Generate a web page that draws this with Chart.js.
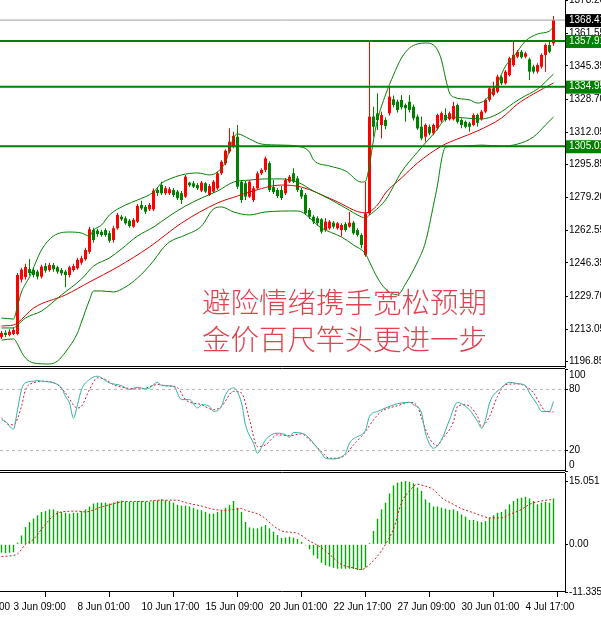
<!DOCTYPE html>
<html><head><meta charset="utf-8">
<script src="https://cdn.jsdelivr.net/npm/chart.js@4.4.1/dist/chart.umd.min.js"></script>
<style>
html,body{margin:0;padding:0;background:#fff;overflow:hidden;}
#wrap{position:relative;width:601px;height:617px;}
canvas{position:absolute;left:0;top:0;}
#note{position:absolute;left:202px;top:283px;font-family:'Noto Sans CJK SC',sans-serif;font-size:28.5px;line-height:36.5px;color:#e2424e;white-space:nowrap;font-weight:300;z-index:5;}
</style></head><body>
<div id="wrap">
<canvas id="cMain" width="601" height="617"></canvas>
<canvas id="cStoch" width="601" height="617"></canvas>
<canvas id="cMacd" width="601" height="617"></canvas>
<div id="note">避险情绪携手宽松预期<br>金价百尺竿头更进一步</div>
</div>
<script>
// ---------- DATA (H4 bars, index 0..138) ----------
const candleOpen = [1209.2,1211.3,1210.2,1210.7,1210.7,1238.0,1239.3,1243.3,1242.8,1242.0,
1239.5,1244.8,1242.8,1245.3,1244.2,1242.8,1242.0,1240.3,1242.8,1243.7,
1246.5,1248.2,1252.0,1262.9,1262.6,1262.0,1262.9,1261.3,1257.9,1263.8,
1269.6,1268.8,1267.6,1264.6,1267.1,1275.5,1274.6,1273.3,1273.3,1283.0,
1285.5,1281.4,1281.4,1283.0,1282.2,1281.4,1279.7,1286.7,1286.4,1285.5,
1282.7,1286.4,1280.5,1282.2,1283.9,1291.4,1296.4,1302.3,1304.8,1309.8,
1287.2,1286.4,1279.7,1278.0,1283.9,1291.4,1293.1,1296.5,1284.5,1283.0,
1283.0,1281.4,1287.2,1291.4,1288.9,1283.0,1280.5,1273.0,1269.6,1268.8,
1268.3,1262.9,1263.8,1266.6,1263.8,1262.9,1265.9,1264.6,1266.6,1262.9,
1260.4,1250.4,1271.3,1319.9,1321.5,1315.7,1318.2,1321.6,1328.6,1327.4,
1328.3,1325.7,1327.4,1324.9,1319.9,1314.8,1309.8,1314.8,1311.5,1314.0,
1317.9,1320.7,1318.6,1318.6,1325.7,1318.2,1317.3,1316.5,1315.7,1320.7,
1318.6,1322.4,1328.3,1330.8,1332.4,1339.7,1336.6,1340.8,1345.8,1350.0,
1352.5,1350.0,1348.7,1345.0,1342.5,1345.0,1350.9,1355.9,1356.7];
const candleHigh = [1212.2,1212.5,1213.0,1214.0,1241.3,1244.0,1246.0,1248.4,1244.0,1243.0,
1245.5,1246.3,1246.5,1246.3,1245.0,1243.8,1243.0,1245.0,1246.0,1249.0,
1250.0,1254.0,1264.5,1264.0,1263.5,1263.0,1263.8,1262.5,1265.0,1271.5,
1270.5,1269.8,1268.5,1269.0,1276.0,1277.6,1275.5,1276.5,1283.8,1284.5,
1287.2,1285.0,1284.5,1284.0,1283.0,1282.5,1290.6,1287.2,1287.5,1286.5,
1287.5,1287.0,1286.0,1288.0,1292.5,1298.0,1303.5,1314.0,1312.3,1315.7,
1288.0,1287.5,1288.0,1285.0,1292.5,1294.0,1299.8,1297.5,1288.0,1284.0,
1285.0,1289.0,1290.5,1294.0,1290.0,1284.0,1281.5,1274.0,1270.5,1269.8,
1269.0,1268.8,1268.0,1267.5,1267.0,1266.3,1267.0,1272.1,1267.5,1263.8,
1261.3,1287.2,1358.0,1324.9,1331.6,1322.4,1319.5,1334.9,1330.5,1328.5,
1330.8,1326.5,1330.8,1326.0,1321.0,1319.9,1316.5,1316.0,1316.5,1321.5,
1322.5,1324.1,1322.5,1327.4,1326.5,1319.0,1318.0,1317.3,1321.6,1321.5,
1323.2,1329.0,1335.0,1337.4,1341.0,1340.5,1343.3,1350.0,1357.5,1353.4,
1353.4,1352.5,1349.5,1346.0,1346.7,1351.7,1356.7,1357.5,1370.5];
const candleLow = [1208.2,1209.2,1209.5,1210.0,1210.0,1236.5,1238.0,1240.0,1239.0,1238.0,
1238.5,1241.5,1242.0,1242.0,1241.0,1240.0,1234.1,1239.0,1242.0,1243.0,
1245.5,1247.5,1251.0,1256.5,1259.5,1259.5,1259.5,1256.5,1256.5,1263.0,
1267.5,1265.5,1264.0,1264.0,1266.5,1273.0,1271.0,1272.5,1272.5,1280.0,
1280.5,1280.5,1280.5,1279.5,1278.0,1276.0,1279.0,1284.5,1284.0,1283.0,
1282.0,1281.5,1280.0,1281.5,1283.0,1290.5,1295.5,1301.5,1304.0,1283.5,
1276.5,1278.0,1279.0,1277.0,1283.0,1290.5,1292.0,1282.0,1281.0,1279.0,
1278.0,1280.5,1286.5,1286.5,1282.0,1278.5,1270.5,1268.5,1266.0,1265.0,
1261.0,1262.0,1263.0,1263.5,1263.0,1259.6,1262.0,1264.0,1260.5,1259.5,
1253.7,1249.5,1270.5,1309.8,1313.2,1309.0,1313.5,1320.5,1324.5,1322.0,
1323.5,1317.3,1322.0,1318.0,1313.2,1308.0,1307.3,1310.5,1310.5,1313.0,
1317.0,1317.3,1318.0,1318.0,1316.5,1314.0,1314.0,1312.3,1315.0,1314.8,
1318.0,1321.6,1327.4,1330.0,1331.6,1335.8,1336.0,1340.0,1345.0,1349.2,
1349.0,1349.2,1338.3,1341.5,1341.6,1344.0,1342.5,1351.7,1355.5];
const candleClose = [1211.2,1210.2,1211.8,1212.7,1240.3,1243.0,1244.3,1241.3,1240.3,1239.5,
1244.5,1242.5,1245.3,1243.2,1242.0,1241.2,1240.3,1244.2,1244.8,1247.9,
1248.7,1252.9,1263.3,1257.9,1260.9,1260.4,1260.4,1257.5,1263.8,1270.5,
1268.3,1266.3,1264.9,1268.0,1275.0,1273.8,1272.1,1275.5,1282.7,1281.5,
1281.4,1283.9,1283.4,1280.5,1278.9,1278.0,1289.7,1285.4,1284.7,1283.9,
1286.7,1282.2,1285.0,1287.2,1291.4,1297.2,1302.8,1307.3,1310.2,1284.7,
1278.0,1279.7,1287.2,1283.9,1291.4,1293.1,1298.9,1283.0,1282.0,1280.0,
1279.0,1288.0,1289.7,1287.2,1283.0,1279.7,1271.3,1269.6,1267.1,1266.3,
1262.1,1267.1,1267.1,1264.6,1266.3,1265.4,1262.9,1266.6,1261.3,1260.4,
1255.4,1271.3,1319.9,1314.8,1318.2,1320.7,1315.2,1329.9,1325.7,1323.2,
1324.6,1324.1,1323.2,1319.1,1314.0,1309.0,1315.7,1311.5,1315.7,1320.7,
1321.6,1318.2,1321.6,1325.2,1317.3,1315.7,1314.8,1314.8,1320.7,1316.8,
1322.4,1328.3,1334.1,1334.1,1340.0,1336.6,1342.5,1349.2,1350.9,1352.5,
1349.7,1351.7,1342.5,1342.5,1345.8,1350.9,1355.9,1352.5,1368.41];

// Bollinger bands and red MA, as [bar index, price] vertices
const bbUpper = [[0,1218.7],[3,1218.2],[4,1224.7],[5,1231.8],[7,1239.3],[10,1252.9],[13,1259.9],[17,1261.9],[20,1261.4],[22,1259.9],[23,1262.9],[25,1265.4],[27,1270.5],[31,1275.5],[34,1278.0],[38,1282.0],[40,1286.5],[42,1288.5],[45,1290.6],[49,1291.6],[52,1290.6],[54,1292.1],[56,1297.1],[57,1303.1],[58,1309.2],[59,1311.2],[62,1308.7],[65,1306.1],[70,1305.6],[75,1304.6],[77,1302.1],[78,1298.1],[82,1295.1],[86,1292.6],[90,1287.0],[91,1287.5],[92,1295.6],[93,1308.2],[94,1318.2],[96,1330.8],[98,1340.8],[100,1349.4],[102,1354.4],[104,1356.4],[106,1356.9],[108,1355.9],[109,1353.4],[110,1348.3],[111,1339.3],[112,1331.8],[113,1329.8],[117,1328.3],[119,1326.7],[121,1328.3],[123,1333.3],[124,1336.8],[126,1345.3],[128,1349.9],[131,1357.9],[134,1361.4],[137,1362.9],[138,1364.9]];
const bbMiddle = [[0,1213.7],[3,1213.7],[4,1215.2],[6,1218.7],[10,1222.2],[15,1230.3],[20,1238.3],[23,1244.8],[27,1248.9],[30,1253.4],[34,1259.9],[38,1264.4],[42,1270.0],[46,1275.0],[50,1279.0],[54,1282.5],[58,1287.0],[62,1288.0],[66,1288.6],[70,1288.6],[74,1287.0],[78,1282.5],[82,1278.5],[86,1274.0],[90,1269.5],[91,1269.0],[92,1270.5],[93,1272.0],[96,1278.0],[100,1292.1],[104,1302.1],[108,1311.2],[112,1319.7],[116,1319.2],[120,1318.7],[124,1321.2],[128,1326.7],[130,1329.3],[134,1333.8],[138,1341.3]];
const bbLower = [[0,1207.6],[3,1208.2],[4,1205.6],[5,1201.6],[6,1198.6],[8,1196.1],[12,1195.6],[14,1197.1],[16,1201.6],[19,1211.2],[20,1216.7],[22,1227.8],[23,1232.3],[25,1232.3],[28,1231.8],[31,1234.3],[34,1238.8],[36,1242.8],[38,1247.4],[40,1252.9],[42,1256.9],[46,1260.4],[50,1264.9],[53,1273.5],[55,1274.5],[58,1272.0],[62,1270.5],[66,1272.0],[74,1272.5],[80,1263.9],[85,1259.4],[88,1255.4],[91,1250.9],[92,1246.9],[94,1238.8],[96,1233.3],[99,1230.3],[101,1235.8],[104,1246.9],[106,1256.9],[108,1275.5],[109,1285.5],[110,1298.1],[111,1304.6],[115,1305.1],[120,1305.6],[125,1305.1],[129,1306.1],[133,1309.7],[136,1315.7],[138,1319.7]];
const maRed = [[0,1214.7],[3,1215.2],[4,1216.2],[8,1223.7],[16,1230.3],[22,1236.8],[29,1244.3],[37,1254.4],[45,1266.4],[54,1276.5],[59,1280.0],[62,1282.0],[70,1285.5],[75,1284.5],[83,1278.0],[91,1271.5],[94,1275.5],[96,1281.5],[100,1289.1],[104,1296.6],[110,1305.1],[114,1308.7],[119,1312.7],[125,1319.2],[129,1326.2],[133,1331.3],[138,1336.8]];

// Horizontal price objects and axis ticks
const levelLines = [1357.91, 1334.95, 1305.01];
const bidPrice = 1368.41;
const priceTicks = [1378.20, 1361.55, 1345.35, 1328.70, 1312.05, 1295.85, 1279.20, 1262.55, 1246.35, 1229.70, 1213.05, 1196.85];

// Stochastic %K / %D as [bar index, value]
const stochK = [[0,50.2],[1,48.6],[3,41],[4,60],[5,79.8],[6,86.4],[8,88],[9,88.7],[10,88],[13,86.4],[15,81.5],[16,73.2],[17,66.7],[18,51.9],[19,65],[20,79.8],[22,89.7],[24,92.9],[25,91.3],[27,86.4],[30,83.7],[32,79.8],[34,82.1],[36,80.5],[37,81.5],[39,87],[40,83.7],[43,83.1],[45,70],[47,70],[49,61.8],[50,65],[52,63.4],[53,58.4],[55,63.4],[56,74.9],[58,81.5],[60,66.7],[61,45.3],[63,27.3],[64,17.4],[65,23.3],[66,30.5],[69,37.1],[71,35.5],[72,33.2],[73,37.7],[75,37.1],[76,35.5],[78,27.3],[80,17.4],[81,12.5],[83,11.8],[85,14.1],[86,17.4],[87,27.3],[89,33.8],[90,35.5],[91,40],[92,53.5],[94,58.4],[96,61.8],[99,66],[102,67.3],[103,65],[105,56.8],[106,37.1],[108,22.4],[110,30.5],[112,50.2],[114,67.3],[115,66],[117,60],[119,48.6],[120,42],[121,50.2],[122,66.7],[125,81.5],[127,87],[129,85.7],[131,83.7],[132,76.5],[134,65],[135,58.4],[137,58.4],[138,68.3]];
const stochD = [[0,51.9],[2,45.3],[3,45.3],[5,63.4],[6,79.8],[8,86.4],[10,88],[14,84.7],[16,76.5],[19,61.8],[20,63.4],[22,79.8],[24,91.3],[26,89.7],[28,84.7],[31,81.5],[35,80.5],[39,84.7],[41,83.7],[44,81.5],[46,70],[50,65],[53,60],[55,63.4],[58,78.1],[60,76.5],[62,50.2],[64,23.9],[66,25.6],[69,35.5],[72,34.5],[75,36.5],[77,30.5],[80,19],[82,12.5],[84,12.5],[86,15.8],[88,25.6],[90,33.8],[91,38.7],[93,50.2],[95,58.4],[99,64],[102,67.3],[104,63.4],[105,52],[107,32],[109,25],[110,30.5],[113,48.6],[114,63.4],[116,65],[119,53.5],[120,43.6],[122,53.5],[124,73.2],[126,84.7],[129,85.4],[131,83.1],[133,76.5],[135,63.4],[136,58.4],[138,58]];
const stochTicks = [100, 80, 20, 0];
const stochLevels = [80, 20];

// MACD main (histogram, one value per bar) and signal [bar index, value]
const macdHist = [-2.0,-2.1,-2.0,-1.9,0.4,2.1,4.1,5.3,6.1,6.9,
7.7,7.9,8.3,8.3,7.9,7.7,7.5,7.3,7.5,7.5,
7.9,8.3,9.0,9.7,9.9,9.9,9.9,9.7,9.9,10.3,
10.4,10.2,10.1,10.1,10.3,10.3,10.1,10.1,10.4,10.5,
10.7,10.5,10.3,9.9,9.4,9.2,9.2,9.0,8.7,8.3,
8.1,7.7,7.3,7.3,7.7,8.1,8.7,9.4,10.3,8.7,
7.7,5.3,4.0,3.8,3.8,4.2,4.6,3.8,3.0,2.2,
1.5,1.6,1.8,1.6,1.3,0.6,-0.2,-1.2,-2.6,-3.4,
-4.4,-5.0,-5.3,-5.6,-5.8,-5.8,-5.8,-5.8,-5.9,-6.1,
-6.1,-5.5,0.3,3.2,6.1,8.3,9.9,12.1,14.0,14.7,
14.9,15.051,14.9,14.5,13.5,12.7,10.7,9.9,9.0,9.0,
8.7,8.5,8.2,8.3,7.9,7.1,6.6,5.8,5.8,5.5,
5.3,5.5,6.3,6.9,7.5,7.7,8.3,9.5,10.3,10.9,
11.1,11.3,10.9,10.3,9.5,9.9,10.1,9.9,10.9];
const macdSignal = [[0,-2.9],[4,-2.3],[5,-1.2],[6,0],[8,1.2],[10,3.6],[13,6.8],[15,7.7],[19,7.9],[21,7.7],[25,8.9],[29,9.9],[31,10.2],[36,10.2],[39,10.5],[41,10.5],[44,10.5],[46,9.9],[50,9.1],[53,8.3],[56,8.1],[60,8.5],[61,8.1],[65,6.8],[68,4.4],[70,3.2],[74,2.6],[77,0.8],[80,-0.8],[82,-2.4],[85,-4.8],[88,-5.6],[90,-6.0],[91,-5.6],[94,-2.8],[96,0],[98,3.6],[100,9.9],[102,12.7],[104,14.3],[105,14.1],[108,13.0],[110,11.1],[113,9.5],[115,8.5],[118,7.5],[120,6.8],[122,6.3],[125,6.3],[127,7.1],[130,8.3],[132,9.5],[135,10.3],[138,10.7]];
const macdTickVals = [15.051, 0, -11.335];
const macdTickLabels = ['15.051', '0.00', '-11.335'];

// Time axis labels (bar index where each label starts)
const xTickIdx = [-13, 3, 19, 35, 51, 67, 83, 99, 115, 131];
const xTickLabels = ['31 May 17:00', '3 Jun 09:00', '8 Jun 01:00', '10 Jun 17:00', '15 Jun 09:00', '20 Jun 01:00', '22 Jun 17:00', '27 Jun 09:00', '30 Jun 01:00', '4 Jul 17:00'];

// ---------- LAYOUT / STYLE ----------
const X_MIN = -0.375, X_MAX = 140.875;
const AXIS_W = 36;
const FONT = {family: "'Liberation Sans', Arial, sans-serif", size: 10};
const UP = '#ff0000', DOWN = '#008000', GREEN = '#008000', HIST = '#00a800';
const MAIN = {top: 0, bottom: 367, min: 1194.08, max: 1378.5};
const STO = {top: 369, bottom: 471, min: 0, max: 100};
const MAC = {top: 473, bottom: 592, min: -11.335, max: 16.958};
const H = 617;

const framePlugin = {
  id: 'frame',
  afterDraw(chart, args, opts) {
    const {ctx, chartArea: a} = chart;
    ctx.save();
    ctx.strokeStyle = '#000'; ctx.lineWidth = 1;
    ctx.beginPath();
    (opts.sides || []).forEach(s => {
      const y = (s === 'top' ? a.top : a.bottom) - 0.5;
      ctx.moveTo(0, y); ctx.lineTo(a.right, y);
    });
    ctx.stroke(); ctx.restore();
  }
};

function xAxis(show) {
  const s = {type: 'linear', min: X_MIN, max: X_MAX, offset: false, display: show, bounds: 'data',
    grid: {display: false}, border: {display: false}};
  if (show) {
    Object.assign(s, {
      grid: {display: true, drawOnChartArea: false, drawTicks: true, tickLength: 5, color: '#000'},
      ticks: {autoSkip: false, maxRotation: 0, minRotation: 0, align: 'start', padding: 4, color: '#000', font: FONT,
        callback: (v, i) => xTickLabels[i]},
      afterBuildTicks: sc => { sc.ticks = xTickIdx.map(v => ({value: v})); },
      afterFit: sc => { sc.height = H - MAC.bottom; sc.paddingLeft = 0; sc.paddingRight = 0; }
    });
  }
  return s;
}

function yAxis(range, ticks, fmt, tickExtra) {
  return {
    position: 'right', min: range.min, max: range.max, bounds: 'data',
    grid: {drawOnChartArea: false, drawTicks: true, tickLength: 3, color: '#000'},
    border: {display: true, color: '#000'},
    ticks: Object.assign({autoSkip: false, padding: 1, color: '#000', font: FONT, callback: fmt}, tickExtra || {}),
    afterBuildTicks: sc => { sc.ticks = ticks.map(v => ({value: v})); },
    afterFit: sc => { sc.width = AXIS_W; sc.paddingTop = 0; sc.paddingBottom = 0; }
  };
}

const toPts = pairs => pairs.map(([x, y]) => ({x, y}));
function lineDs(pairs, color, extra) {
  return Object.assign({type: 'line', data: toPts(pairs), borderColor: color, borderWidth: 1,
    pointRadius: 0, fill: false, cubicInterpolationMode: 'monotone', order: 1}, extra || {});
}
function levelDs(v, color, width, dash) {
  return {type: 'line', data: [{x: X_MIN, y: v}, {x: X_MAX, y: v}], borderColor: color, borderWidth: width,
    borderDash: dash || [], pointRadius: 0, fill: false, order: 0};
}
function baseOpts(area, sides, scales, padBottom) {
  return {
    responsive: false, animation: false, events: [],
    layout: {padding: {top: area.top, bottom: padBottom, left: 0, right: 0}, autoPadding: false},
    plugins: {legend: {display: false}, tooltip: {enabled: false}, frame: {sides}},
    scales
  };
}

// ---------- MAIN PRICE CHART ----------
const idx = candleOpen.map((_, i) => i);
const candleColor = idx.map(i => candleClose[i] >= candleOpen[i] ? UP : DOWN);
const hiBg = v => levelLines.includes(v) ? GREEN : (v === bidPrice ? '#000' : null);

new Chart(document.getElementById('cMain'), {
  type: 'bar',
  data: {datasets: [
    ...levelLines.map(v => levelDs(v, GREEN, 2)),
    levelDs(bidPrice, '#a0a0a0', 1),
    lineDs(bbUpper, GREEN), lineDs(bbMiddle, GREEN), lineDs(bbLower, GREEN), lineDs(maRed, '#e00000'),
    {type: 'bar', data: idx.map(i => ({x: i, y: [candleOpen[i], candleClose[i]]})), backgroundColor: candleColor,
      barThickness: 3, minBarLength: 1, grouped: false, borderWidth: 0, inflateAmount: 0, order: 2},
    {type: 'bar', data: idx.map(i => ({x: i, y: [candleLow[i], candleHigh[i]]})), backgroundColor: candleColor,
      barThickness: 1, grouped: false, borderWidth: 0, inflateAmount: 0, order: 3}
  ]},
  options: baseOpts(MAIN, ['bottom'], {
    x: xAxis(false),
    y: yAxis(MAIN, priceTicks.concat([bidPrice], levelLines), v => v.toFixed(2), {
      color: c => hiBg(c.tick.value) ? '#fff' : '#000',
      showLabelBackdrop: c => !!hiBg(c.tick.value),
      backdropColor: c => hiBg(c.tick.value) || 'rgba(0,0,0,0)',
      backdropPadding: {left: 3, right: 14, top: 0, bottom: 1}
    })
  }, H - MAIN.bottom),
  plugins: [framePlugin]
});

// ---------- STOCHASTIC ----------
new Chart(document.getElementById('cStoch'), {
  type: 'line',
  data: {datasets: [
    ...stochLevels.map(v => levelDs(v, '#b4b4b4', 1, [3, 3])),
    lineDs(stochK, '#2fb0a2'),
    lineDs(stochD, '#dc143c', {borderDash: [2, 2]})
  ]},
  options: baseOpts(STO, ['top', 'bottom'], {
    x: xAxis(false),
    y: yAxis(STO, stochTicks, v => v === STO.max ? ['', String(v)] : (v === STO.min ? [String(v), ''] : String(v)))
  }, H - STO.bottom),
  plugins: [framePlugin]
});

// ---------- MACD ----------
new Chart(document.getElementById('cMacd'), {
  type: 'bar',
  data: {datasets: [
    lineDs(macdSignal, '#d21e1e', {borderDash: [2, 2], order: 0}),
    {type: 'bar', data: idx.map(i => ({x: i, y: macdHist[i]})), backgroundColor: HIST,
      barThickness: 1.4, borderWidth: 0, inflateAmount: 0, order: 1}
  ]},
  options: baseOpts(MAC, ['top', 'bottom'], {
    x: xAxis(true),
    y: yAxis(MAC, macdTickVals, (v, i) => macdTickLabels[i])
  }, 0),
  plugins: [framePlugin]
});
</script>
</body></html>
